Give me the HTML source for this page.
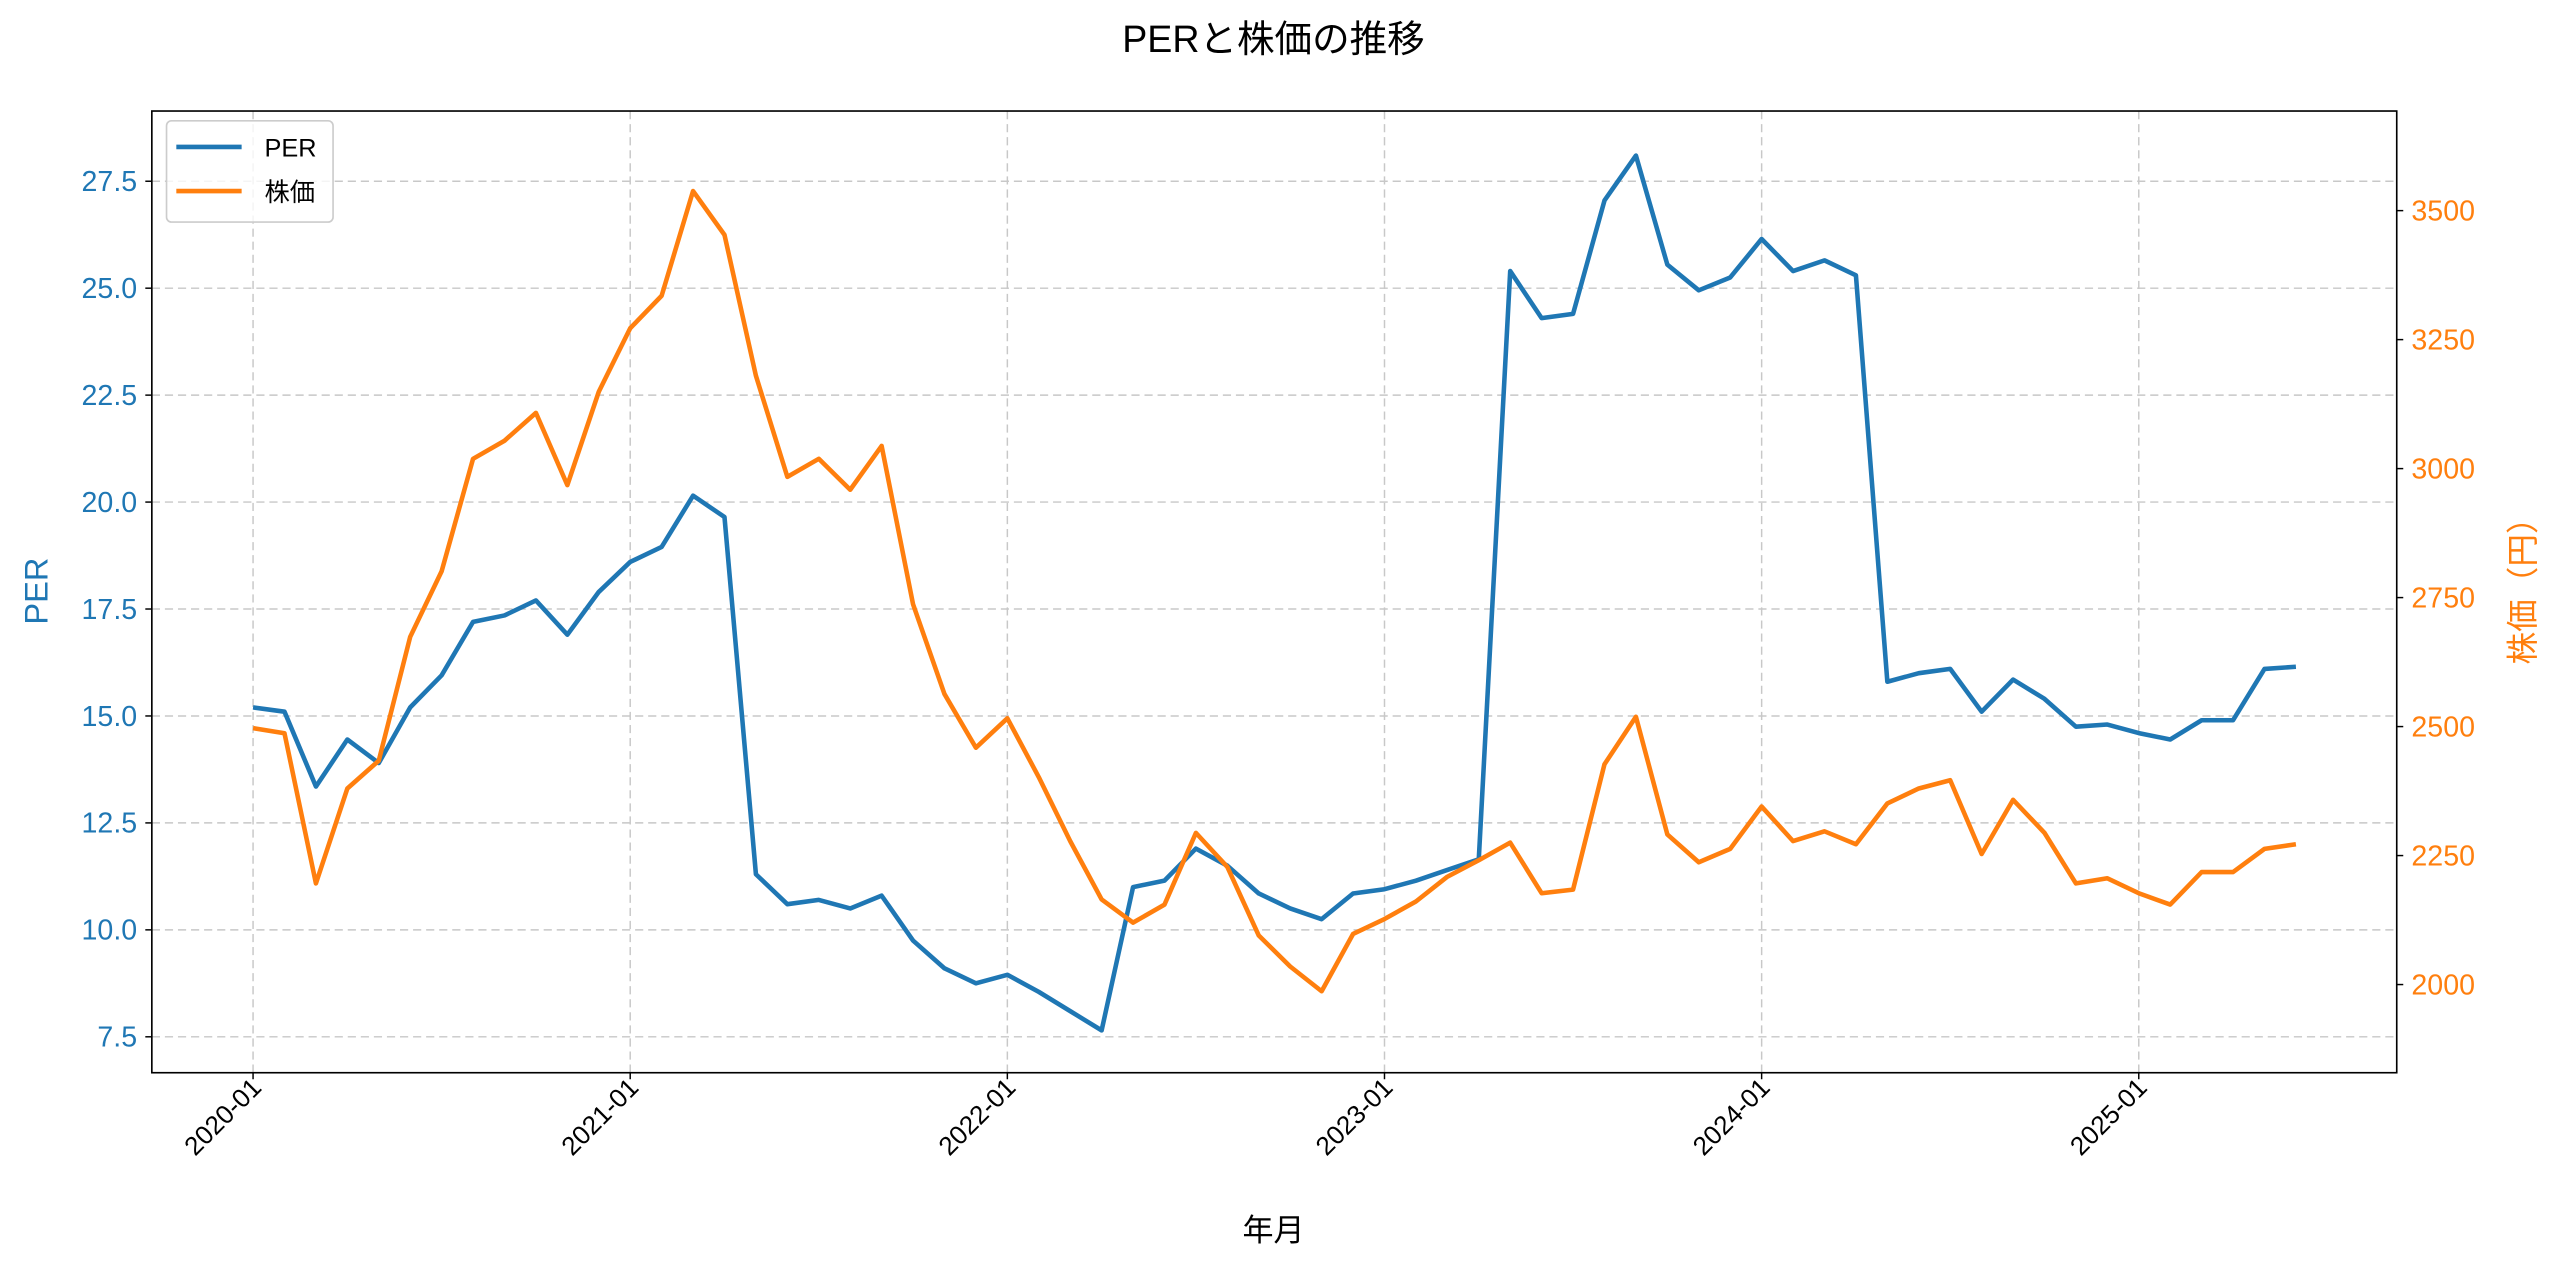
<!DOCTYPE html>
<html><head><meta charset="utf-8"><style>
html,body{margin:0;padding:0;background:#fff;}
svg{display:block;font-family:"Liberation Sans","Noto Sans CJK JP",sans-serif;}
</style></head><body>
<svg id="chart" width="2560" height="1268" viewBox="0 0 1568 776.6" preserveAspectRatio="none" xmlns="http://www.w3.org/2000/svg">
<rect width="1568" height="776.6" fill="#fff"/>
<text x="780" y="32" text-anchor="middle" font-size="23" fill="#000">PERと株価の推移</text>
<g id="grid"></g>
<g id="axes"></g>
<g id="series"></g>
<rect x="93" y="68" width="1375" height="589" fill="none" stroke="#000" stroke-width="1"/>
<text transform="translate(29,362) rotate(-90)" text-anchor="middle" font-size="20" fill="#1f77b4">PER</text>
<text transform="translate(1552,357) rotate(-90)" text-anchor="middle" font-size="20" fill="#ff7f0e">株価（円）</text>
<text x="780" y="760" text-anchor="middle" font-size="19" fill="#000">年月</text>
<g>
<rect x="102" y="74" width="102" height="62" rx="3" fill="#fff" fill-opacity="0.8" stroke="#ccc" stroke-width="1"/>
<line x1="108" y1="90" x2="148" y2="90" stroke="#1f77b4" stroke-width="2.8"/>
<text x="162" y="96" font-size="15.5">PER</text>
<line x1="108" y1="117" x2="148" y2="117" stroke="#ff7f0e" stroke-width="2.8"/>
<text x="162" y="123" font-size="15.5">株価</text>
</g>
</svg>
<script>
const perValues=[15.2,15.1,13.35,14.45,13.9,15.2,15.95,17.2,17.35,17.7,16.9,17.9,18.6,18.95,20.15,19.65,11.3,10.6,10.7,10.5,10.8,9.75,9.1,8.75,8.95,8.55,8.1,7.65,11.0,11.15,11.9,11.5,10.85,10.5,10.25,10.85,10.95,11.15,11.4,11.65,25.4,24.3,24.4,27.05,28.1,25.55,24.95,25.25,26.15,25.4,25.65,25.3,15.8,16.0,16.1,15.1,15.85,15.4,14.75,14.8,14.6,14.45,14.9,14.9,16.1,16.15];
const priceValues=[2497,2487,2196,2380,2434,2674,2801,3019,3054,3108,2968,3149,3272,3335,3538,3453,3180,2984,3019,2959,3044,2737,2563,2459,2516,2402,2278,2165,2120,2155,2294,2228,2095,2035,1987,2098,2127,2161,2209,2241,2275,2177,2184,2427,2519,2291,2237,2263,2345,2278,2297,2272,2351,2380,2396,2253,2358,2294,2196,2206,2177,2155,2218,2218,2263,2272];
const xTickLabels=["2020-01","2021-01","2022-01","2023-01","2024-01","2025-01"];
const perTicks=[7.5,10.0,12.5,15.0,17.5,20.0,22.5,25.0,27.5];
const priceTicks=[2000,2250,2500,2750,3000,3250,3500];
const NS="http://www.w3.org/2000/svg";
const xOf=i=>155+i*19.25;
const yPer=v=>111+(27.5-v)*26.2;
const yPrice=v=>129+(3500-v)*0.316;
function mk(tag,attrs,parent){const e=document.createElementNS(NS,tag);for(const k in attrs)e.setAttribute(k,attrs[k]);parent.appendChild(e);return e;}
const grid=document.getElementById('grid'),axes=document.getElementById('axes'),series=document.getElementById('series');
xTickLabels.forEach((lab,j)=>{const x=xOf(j*12);
 const g=mk('line',{x1:x,x2:x,y1:68,y2:657,stroke:'#c8c8c8','stroke-width':0.9,'stroke-dasharray':'5,3'},grid);
 
 
 mk('line',{x1:x,x2:x,y1:657,y2:661,stroke:'#000','stroke-width':0.9},axes);
 const t=mk('text',{transform:`translate(${x+6},${667}) rotate(-45)`,'text-anchor':'end','font-size':'16',fill:'#000'},axes);
 t.textContent=lab;
 
 
});
perTicks.forEach(v=>{const y=yPer(v);
 const g=mk('line',{x1:93,x2:1468,y1:y,y2:y,stroke:'#c8c8c8','stroke-width':0.9,'stroke-dasharray':'5,3'},grid);
 
 
 mk('line',{x1:89,x2:93,y1:y,y2:y,stroke:'#000','stroke-width':0.9},axes);
 const t=mk('text',{x:84,y:y+6,'text-anchor':'end','font-size':'17.5',fill:'#1f77b4'},axes);
 t.textContent=v.toFixed(1);
 
 
});
priceTicks.forEach(v=>{const y=yPrice(v);
 mk('line',{x1:1468,x2:1472,y1:y,y2:y,stroke:'#000','stroke-width':0.9},axes);
 const t=mk('text',{x:1477,y:y+6,'font-size':'17.5',fill:'#ff7f0e'},axes);
 t.textContent=String(v);
 
 
});
const perLine=mk('polyline',{points:perValues.map((v,i)=>xOf(i)+','+yPer(v)).join(' '),fill:'none',stroke:'#1f77b4','stroke-width':2.8,'stroke-linejoin':'round'},series);


const priceLine=mk('polyline',{points:priceValues.map((v,i)=>xOf(i)+','+yPrice(v)).join(' '),fill:'none',stroke:'#ff7f0e','stroke-width':2.8,'stroke-linejoin':'round'},series);


</script>
</body></html>
